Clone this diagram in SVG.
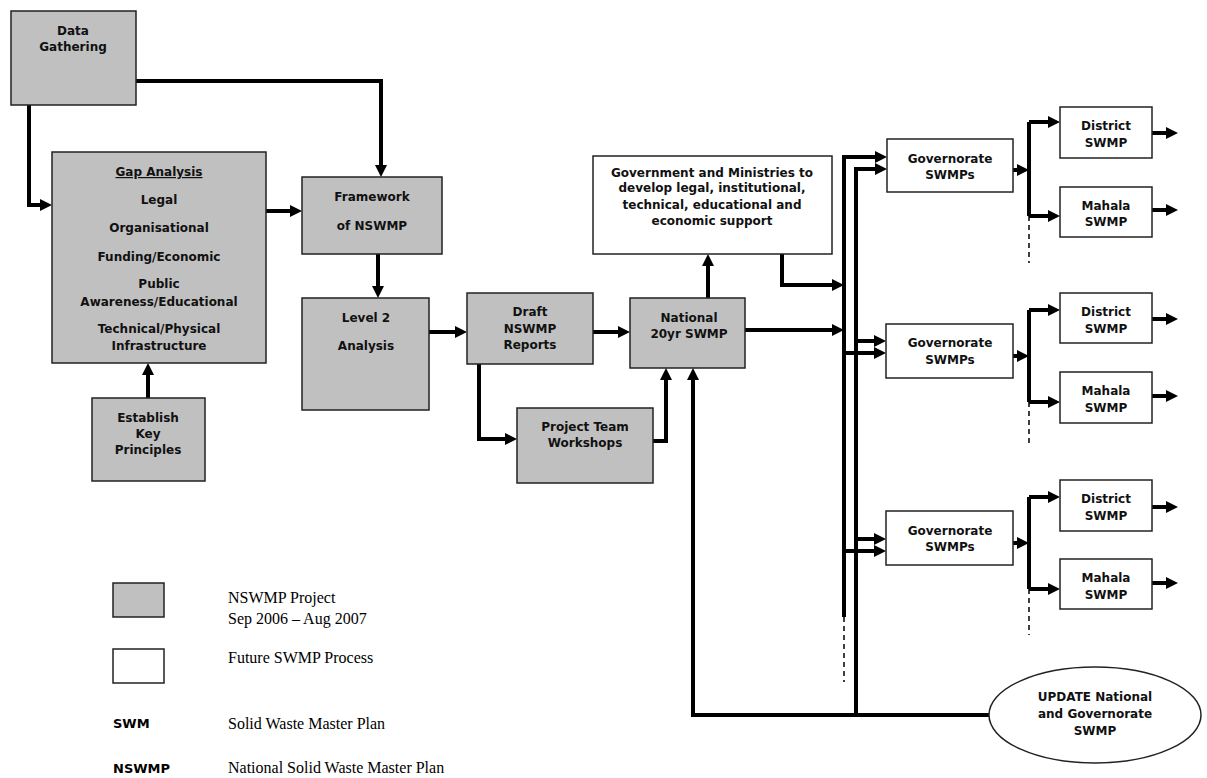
<svg xmlns="http://www.w3.org/2000/svg" width="1207" height="778" viewBox="0 0 1207 778">
<style>
.g{fill:#c0c0c0;stroke:#222;stroke-width:1.5}
.w{fill:#fff;stroke:#222;stroke-width:1.5}
.t{font-family:"DejaVu Sans",Verdana,sans-serif;font-weight:bold;font-size:12px;fill:#111;text-anchor:middle}
.c{fill:none;stroke:#000;stroke-width:4}
.a{marker-end:url(#ah)}
.d{fill:none;stroke:#000;stroke-width:1.5;stroke-dasharray:5,4}
.lg{font-family:"Liberation Serif","Times New Roman",serif;font-size:16px;fill:#000}
.lb{font-family:"DejaVu Sans",Verdana,sans-serif;font-weight:bold;font-size:13px;fill:#000}
</style>
<defs>
<marker id="ah" markerWidth="12" markerHeight="12" refX="4" refY="6" orient="auto" markerUnits="userSpaceOnUse">
<path d="M0,0 L12,6 L0,12 z" fill="#000"/>
</marker>
</defs>
<rect width="1207" height="778" fill="#fff"/>

<g id="connectors">
<path class="c a" d="M136,81 H381 V169"/>
<path class="c a" d="M29,105 V205 H44"/>
<path class="c a" d="M266,211 H294"/>
<path class="c a" d="M378,254 V290"/>
<path class="c a" d="M148,398 V371"/>
<path class="c a" d="M429,332 H459"/>
<path class="c a" d="M593,332 H622"/>
<path class="c a" d="M479,364 V439 H509"/>
<path class="c a" d="M653,441 H666 V376"/>
<path class="c a" d="M989,715 H693 V376"/>
<path class="c a" d="M708,298 V262"/>
<path class="c a" d="M745,330 H836"/>
<path class="c a" d="M782,254 V285 H836"/>
<path class="c a" d="M856,715 V169 H879"/>
<path class="c a" d="M844,617 V157 H879"/>
<path class="d" d="M844,617 V682"/>
<path class="c a" d="M856,341 H878"/>
<path class="c a" d="M844,353 H878"/>
<path class="c a" d="M856,539 H878"/>
<path class="c a" d="M844,551 H878"/>

<path class="c a" d="M1013,170 H1021"/>
<path class="c" d="M1029,122 V216"/>
<path class="c a" d="M1029,122 H1052"/>
<path class="c a" d="M1029,216 H1052"/>
<path class="d" d="M1029,216 V263"/>
<path class="c a" d="M1152,133 H1170"/>
<path class="c a" d="M1152,210 H1170"/>

<path class="c a" d="M1013,356 H1021"/>
<path class="c" d="M1029,310 V402"/>
<path class="c a" d="M1029,310 H1052"/>
<path class="c a" d="M1029,402 H1052"/>
<path class="d" d="M1029,402 V446"/>
<path class="c a" d="M1152,319 H1170"/>
<path class="c a" d="M1152,396 H1170"/>

<path class="c a" d="M1013,543 H1021"/>
<path class="c" d="M1029,497 V589"/>
<path class="c a" d="M1029,497 H1052"/>
<path class="c a" d="M1029,589 H1052"/>
<path class="d" d="M1029,589 V635"/>
<path class="c a" d="M1152,507 H1170"/>
<path class="c a" d="M1152,583 H1170"/>
</g>

<g id="data-gathering">
<rect class="g" x="11" y="11" width="125" height="94"/>
<text class="t" x="73" y="35">Data</text>
<text class="t" x="73" y="51">Gathering</text>
</g>

<g id="gap-analysis">
<rect class="g" x="52" y="152" width="214" height="211"/>
<text class="t" x="159" y="176" text-decoration="underline">Gap Analysis</text>
<text class="t" x="159" y="204">Legal</text>
<text class="t" x="159" y="232">Organisational</text>
<text class="t" x="159" y="261">Funding/Economic</text>
<text class="t" x="159" y="288">Public</text>
<text class="t" x="159" y="306">Awareness/Educational</text>
<text class="t" x="159" y="333">Technical/Physical</text>
<text class="t" x="159" y="350">Infrastructure</text>
</g>

<g id="establish">
<rect class="g" x="92" y="398" width="113" height="83"/>
<text class="t" x="148" y="422">Establish</text>
<text class="t" x="148" y="438">Key</text>
<text class="t" x="148" y="454">Principles</text>
</g>

<g id="framework">
<rect class="g" x="302" y="177" width="140" height="77"/>
<text class="t" x="372" y="201">Framework</text>
<text class="t" x="372" y="230">of NSWMP</text>
</g>

<g id="level2">
<rect class="g" x="302" y="298" width="127" height="112"/>
<text class="t" x="366" y="322">Level 2</text>
<text class="t" x="366" y="350">Analysis</text>
</g>

<g id="draft">
<rect class="g" x="467" y="293" width="126" height="71"/>
<text class="t" x="530" y="316">Draft</text>
<text class="t" x="530" y="333">NSWMP</text>
<text class="t" x="530" y="349">Reports</text>
</g>

<g id="workshops">
<rect class="g" x="517" y="408" width="136" height="75"/>
<text class="t" x="585" y="431">Project Team</text>
<text class="t" x="585" y="447">Workshops</text>
</g>

<g id="national">
<rect class="g" x="630" y="298" width="115" height="70"/>
<text class="t" x="689" y="322">National</text>
<text class="t" x="689" y="338">20yr SWMP</text>
</g>

<g id="government">
<rect class="w" x="593" y="156" width="239" height="98"/>
<text class="t" x="712" y="177">Government and Ministries to</text>
<text class="t" x="712" y="192">develop legal, institutional,</text>
<text class="t" x="712" y="209">technical, educational and</text>
<text class="t" x="712" y="225">economic support</text>
</g>

<g id="governorate1">
<rect class="w" x="887" y="139" width="126" height="53"/>
<text class="t" x="950" y="163">Governorate</text>
<text class="t" x="950" y="179">SWMPs</text>
</g>
<g id="district1">
<rect class="w" x="1060" y="107" width="92" height="51"/>
<text class="t" x="1106" y="130">District</text>
<text class="t" x="1106" y="147">SWMP</text>
</g>
<g id="mahala1">
<rect class="w" x="1060" y="187" width="92" height="50"/>
<text class="t" x="1106" y="210">Mahala</text>
<text class="t" x="1106" y="226">SWMP</text>
</g>

<g id="governorate2">
<rect class="w" x="886" y="324" width="127" height="54"/>
<text class="t" x="950" y="347">Governorate</text>
<text class="t" x="950" y="364">SWMPs</text>
</g>
<g id="district2">
<rect class="w" x="1060" y="293" width="92" height="50"/>
<text class="t" x="1106" y="316">District</text>
<text class="t" x="1106" y="333">SWMP</text>
</g>
<g id="mahala2">
<rect class="w" x="1060" y="372" width="92" height="51"/>
<text class="t" x="1106" y="395">Mahala</text>
<text class="t" x="1106" y="412">SWMP</text>
</g>

<g id="governorate3">
<rect class="w" x="886" y="511" width="127" height="54"/>
<text class="t" x="950" y="535">Governorate</text>
<text class="t" x="950" y="551">SWMPs</text>
</g>
<g id="district3">
<rect class="w" x="1060" y="480" width="92" height="51"/>
<text class="t" x="1106" y="503">District</text>
<text class="t" x="1106" y="520">SWMP</text>
</g>
<g id="mahala3">
<rect class="w" x="1060" y="559" width="92" height="50"/>
<text class="t" x="1106" y="582">Mahala</text>
<text class="t" x="1106" y="599">SWMP</text>
</g>

<g id="update">
<ellipse class="w" cx="1095" cy="715" rx="106" ry="48"/>
<text class="t" x="1095" y="701">UPDATE National</text>
<text class="t" x="1095" y="718">and Governorate</text>
<text class="t" x="1095" y="735">SWMP</text>
</g>

<g id="legend">
<rect class="g" x="113" y="583" width="51" height="34"/>
<text class="lg" x="228" y="603">NSWMP Project</text>
<text class="lg" x="228" y="624">Sep 2006 – Aug 2007</text>
<rect class="w" x="113" y="649" width="51" height="34"/>
<text class="lg" x="228" y="663">Future SWMP Process</text>
<text class="lb" x="113" y="728">SWM</text>
<text class="lg" x="228" y="729">Solid Waste Master Plan</text>
<text class="lb" x="113" y="773">NSWMP</text>
<text class="lg" x="228" y="773">National Solid Waste Master Plan</text>
</g>
</svg>
